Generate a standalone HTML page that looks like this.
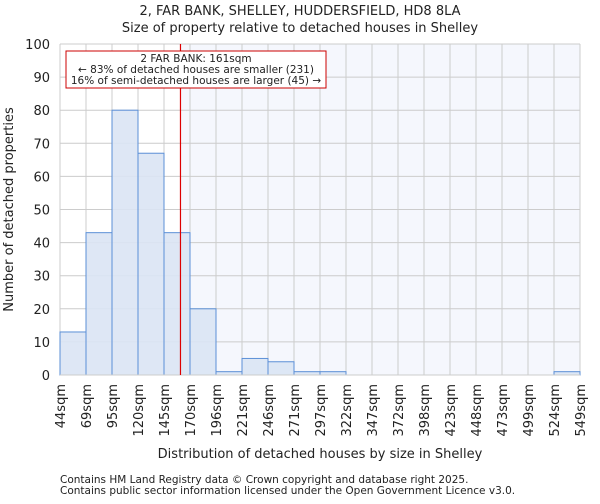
<!DOCTYPE html>
<html><head><meta charset="utf-8"><style>
body{margin:0;background:#fff;font-family:"DejaVu Sans","Liberation Sans",sans-serif;}
svg text{font-family:"DejaVu Sans","Liberation Sans",sans-serif;fill:#222;}
</style></head><body>
<svg id="c" width="600" height="500"></svg>
<script>
const xLabels=["44sqm","69sqm","95sqm","120sqm","145sqm","170sqm","196sqm","221sqm","246sqm","271sqm","297sqm","322sqm","347sqm","372sqm","398sqm","423sqm","448sqm","473sqm","499sqm","524sqm","549sqm"];
const counts=[13,43,80,67,43,20,1,5,4,1,1,0,0,0,0,0,0,0,0,1];
const yTicks=[0,10,20,30,40,50,60,70,80,90,100];
const propertySize=161;
const binStart=44, binEnd=549;
const L=60,R=580,T=44,B=375;
const NS="http://www.w3.org/2000/svg";
const svg=document.getElementById('c');
const xs=i=>L+i*(R-L)/counts.length;
const xv=v=>L+(v-binStart)/(binEnd-binStart)*(R-L);
const ys=v=>B-v/100*(B-T);
function mk(t,a,txt){const e=document.createElementNS(NS,t);for(const k in a)e.setAttribute(k,a[k]);if(txt!=null)e.textContent=txt;svg.appendChild(e);return e;}
const px=xv(propertySize);
let e;
e=mk('rect',{x:L,y:T,width:R-L,height:B-T,fill:'#fff'});


e=mk('rect',{x:px,y:T,width:R-px,height:B-T,fill:'#f5f7fd'});


yTicks.forEach(v=>{
 e=mk('line',{x1:L,x2:R,y1:ys(v),y2:ys(v),stroke:'#ccc','stroke-width':1});
 
 
 e=mk('text',{x:L-10,y:ys(v)+5,'text-anchor':'end','font-size':13},String(v));
 
 
});
xLabels.forEach((lab,i)=>{
 e=mk('line',{x1:xs(i),x2:xs(i),y1:T,y2:B,stroke:'#ccc','stroke-width':1});
 
 
 const x=xs(i);
 e=mk('text',{x:0,y:0,'text-anchor':'end','font-size':13,transform:`translate(${x+5},${B+9}) rotate(-90)`},lab);
 
 
});
counts.forEach((c,i)=>{
 if(c<=0)return;
 e=mk('rect',{x:xs(i),y:ys(c),width:xs(i+1)-xs(i),height:B-ys(c),fill:'#dae4f4',stroke:'#5b8fd6','stroke-width':1,'fill-opacity':0.9});
 
 
});
e=mk('line',{x1:L,x2:R,y1:B,y2:B,stroke:'#ccc','stroke-width':1});
e=mk('line',{x1:px,x2:px,y1:T,y2:B,stroke:'#d00','stroke-width':1.2});


e=mk('rect',{x:66,y:51,width:260,height:37,fill:'#fff',stroke:'#c00','stroke-width':1});


[["2 FAR BANK: 161sqm",62],["← 83% of detached houses are smaller (231)",73],["16% of semi-detached houses are larger (45) →",84]].forEach(([t,y])=>{
 e=mk('text',{x:196,y:y,'text-anchor':'middle','font-size':10.5},t);
 
 
});
e=mk('text',{x:300,y:15,'text-anchor':'middle','font-size':13},"2, FAR BANK, SHELLEY, HUDDERSFIELD, HD8 8LA");


e=mk('text',{x:300,y:32,'text-anchor':'middle','font-size':13},"Size of property relative to detached houses in Shelley");


e=mk('text',{x:0,y:0,'text-anchor':'middle','font-size':13,transform:`translate(13,${(T+B)/2}) rotate(-90)`},"Number of detached properties");


e=mk('text',{x:(L+R)/2,y:458,'text-anchor':'middle','font-size':13},"Distribution of detached houses by size in Shelley");


e=mk('text',{x:60,y:483,'font-size':10.5,fill:'#444'},"Contains HM Land Registry data © Crown copyright and database right 2025.");


e=mk('text',{x:60,y:494,'font-size':10.5,fill:'#444'},"Contains public sector information licensed under the Open Government Licence v3.0.");


</script>
</body></html>
